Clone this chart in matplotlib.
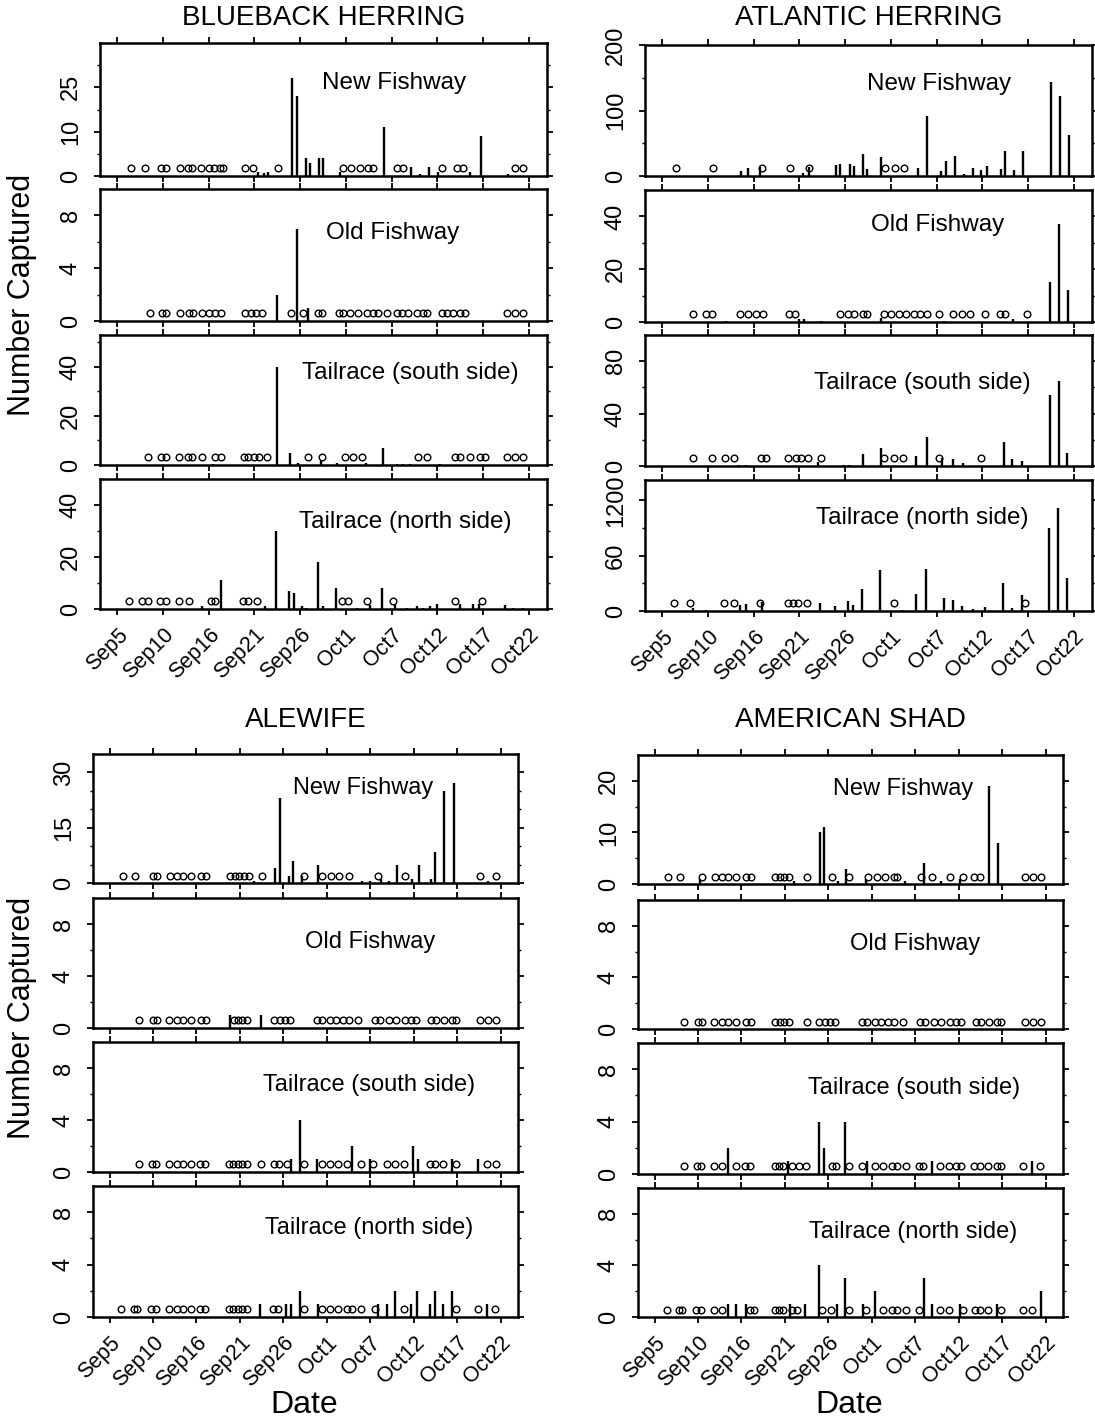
import matplotlib.pyplot as plt

# Liberation Sans stands in for Arial
plt.rcParams['font.family'] = ['Liberation Sans', 'DejaVu Sans']

# x axis is the sampling day, ticks every 5 units
date_ticks = [5, 10, 15, 20, 25, 30, 35, 40, 45, 50]
date_labels = ['Sep5', 'Sep10', 'Sep16', 'Sep21', 'Sep26',
               'Oct1', 'Oct7', 'Oct12', 'Oct17', 'Oct22']

species = ['BLUEBACK HERRING', 'ATLANTIC HERRING', 'ALEWIFE', 'AMERICAN SHAD']
sites = ['New Fishway', 'Old Fishway', 'Tailrace (south side)', 'Tailrace (north side)']

# zero = days sampled with no catch (open circles), *_x / *_n = days with catch
# blueback herring
bb_new_zero = [6.5, 8.0, 9.8, 10.3, 11.9, 12.7, 13.2, 14.2, 15.0, 15.6, 16.2, 16.6, 19.0, 19.8,
               22.6, 29.7, 30.6, 31.5, 32.4, 33.0, 35.6, 36.3, 40.5, 42.1, 42.8, 48.5, 49.4]
bb_new_x = [20.4, 21.0, 21.5, 24.1, 24.6, 25.6, 26.1, 27.1, 27.5, 29.4, 34.2, 37.1, 38.1,
            39.1, 40.1, 43.6, 44.8, 47.7]
bb_new_n = [1, 0.7, 1, 22, 18, 4, 3, 4, 4, 1, 11, 2, 0.5, 2, 1, 1, 9, 0.5]

bb_old_zero = [8.6, 9.9, 10.3, 11.9, 12.8, 13.3, 14.3, 15.0, 15.7, 16.3, 19.0, 19.6, 20.2, 20.8,
               24.0, 25.3, 26.9, 27.4, 29.2, 29.7, 30.5, 31.3, 32.3, 33.0, 33.5, 34.5, 35.6,
               36.1, 36.8, 37.8, 38.4, 38.9, 40.5, 41.1, 41.7, 42.5, 43.0, 47.6, 48.5, 49.4]
bb_old_x = [22.5, 24.7, 25.9]
bb_old_n = [2, 7, 1]

bb_south_zero = [8.4, 9.8, 10.3, 11.7, 12.7, 13.2, 14.3, 15.7, 16.3, 18.8, 19.3, 19.9, 20.5,
                 21.4, 25.8, 27.4, 29.9, 30.8, 31.8, 37.9, 38.9, 41.9, 42.5, 43.6, 44.7, 45.2,
                 47.6, 48.5, 49.4]
bb_south_x = [15.5, 22.5, 23.9, 24.8, 27.3, 29.0, 32.2, 34.1, 35.6, 36.3, 37.0, 40.3]
bb_south_n = [0.5, 40, 5, 1, 1.5, 1, 1, 7, 0.5, 0.5, 0.5, 0.5]

bb_north_zero = [6.3, 7.7, 8.3, 9.7, 10.3, 11.7, 12.8, 15.2, 15.7, 18.7, 19.3, 20.3, 29.6,
                 30.2, 32.3, 35.2, 41.9, 44.9]
bb_north_x = [14.3, 16.3, 21.2, 22.4, 23.8, 24.3, 25.2, 25.6, 26.9, 27.5, 28.9, 31.2, 32.6,
              34.0, 35.4, 36.7, 37.8, 38.4, 39.2, 40.0, 42.5, 43.9, 44.6, 47.4, 48.3, 49.4]
bb_north_n = [1, 11, 1, 30, 7, 6, 1, 0.5, 18, 1, 8, 0.5, 1.5, 8, 1.5, 0.5, 1, 0.5, 1, 2,
              2, 2, 2, 1.5, 0.5, 0.5]

# atlantic herring
ah_new_zero = [6.5, 10.5, 15.9, 19.0, 21.0, 29.4, 30.5, 31.4]
ah_new_x = [13.6, 14.4, 15.7, 20.4, 21.0, 24.0, 24.4, 25.5, 26.0, 27.0, 27.4, 28.9, 33.0,
            34.0, 35.5, 36.0, 37.0, 38.0, 39.0, 39.9, 40.5, 42.0, 42.5, 43.5, 44.5, 47.5,
            48.5, 49.5]
ah_new_n = [8, 12, 14, 4, 14, 17, 18, 18, 16, 34, 10, 29, 12, 91, 7, 23, 30, 3, 12, 9, 16,
            11, 38, 9, 38, 143, 122, 63]

ah_old_zero = [8.4, 9.8, 10.4, 13.5, 14.4, 15.2, 16.0, 18.8, 19.5, 24.4, 25.3, 26.0, 26.9,
               27.4, 29.2, 30.0, 30.9, 31.6, 32.5, 33.2, 33.9, 35.3, 36.8, 37.8, 38.7, 40.3,
               41.9, 42.5, 44.9]
ah_old_x = [12.0, 20.0, 20.5, 22.4, 28.9, 35.8, 43.4, 47.4, 48.4, 49.4]
ah_old_n = [0.5, 1, 1, 0.5, 1.5, 0.5, 1, 15, 37, 12]

ah_south_zero = [8.3, 10.4, 11.8, 12.8, 15.8, 16.3, 18.7, 19.6, 20.2, 20.9, 22.4, 29.2,
                 30.3, 31.3, 35.3, 39.9]
ah_south_x = [13.4, 14.2, 22.0, 24.9, 25.4, 27.0, 28.9, 32.8, 33.9, 35.6, 36.8, 37.9, 42.4,
              43.3, 44.3, 47.4, 48.4, 49.3]
ah_south_n = [1, 1, 3, 1, 1, 9, 14, 8, 22, 6, 5, 2, 18, 5, 4, 54, 65, 10]

ah_north_zero = [6.3, 8.0, 11.7, 12.8, 15.7, 18.7, 19.3, 19.8, 20.8, 30.3, 44.7]
ah_north_x = [8.4, 9.8, 13.5, 14.2, 15.9, 22.2, 23.9, 25.3, 25.8, 26.8, 28.8, 31.2, 32.8,
              33.8, 35.8, 36.8, 37.8, 39.0, 40.3, 42.3, 43.3, 44.3, 47.3, 48.3, 49.3]
ah_north_n = [3, 1, 6, 8, 10, 9, 5, 11, 7, 24, 44, 1, 18, 45, 14, 12, 5, 2, 4, 30, 3, 17,
              90, 112, 36]

# alewife
al_new_zero = [6.5, 7.9, 10.0, 10.5, 12.0, 12.8, 13.4, 14.4, 15.5, 16.1, 18.9, 19.4, 19.9,
               20.5, 21.0, 22.6, 27.4, 29.5, 30.5, 31.4, 32.5, 35.9, 39.0, 47.6, 49.5]
al_new_x = [21.6, 24.0, 24.6, 25.6, 26.1, 27.1, 29.0, 34.0, 35.0, 36.2, 37.1, 38.1, 39.8,
            40.6, 42.0, 42.5, 43.5, 44.6, 48.5]
al_new_n = [0.5, 4, 23, 2, 6, 2, 5, 0.5, 0.5, 1, 0.5, 5, 1, 5, 1, 8.5, 25, 27, 0.5]

al_old_zero = [8.4, 10.0, 10.5, 11.9, 12.8, 13.4, 14.4, 15.5, 16.1, 19.3, 19.8, 20.3, 20.8,
               23.9, 24.6, 25.2, 25.8, 28.9, 29.4, 30.4, 31.1, 31.9, 32.5, 33.6, 35.5, 36.1,
               37.1, 38.0, 39.0, 39.7, 40.3, 42.0, 42.6, 43.5, 44.4, 44.9, 47.6, 48.5, 49.5]
al_old_x = [18.9, 22.4]
al_old_n = [1, 1]

al_south_zero = [8.4, 9.9, 10.3, 11.9, 12.8, 13.4, 14.4, 15.4, 16.0, 18.7, 19.2, 19.8, 20.3,
                 20.8, 22.4, 23.9, 24.5, 25.4, 27.4, 29.4, 30.4, 31.3, 32.3, 33.9, 35.3,
                 36.9, 37.8, 38.9, 41.9, 42.4, 43.4, 44.9, 48.4, 49.5]
al_south_x = [25.9, 26.9, 28.9, 32.9, 35.0, 39.9, 40.5, 44.4, 47.4]
al_south_n = [1, 4, 1, 2, 1, 2, 1, 1, 1]

al_north_zero = [6.3, 7.8, 8.2, 9.8, 10.3, 11.9, 12.8, 13.4, 14.4, 15.4, 16.0, 18.7, 19.2,
                 19.8, 20.3, 20.8, 23.8, 24.4, 27.4, 29.4, 30.4, 31.3, 32.3, 32.9, 33.9,
                 35.5, 38.9, 44.9, 47.4, 49.4]
al_north_x = [22.3, 25.3, 25.9, 26.9, 29.0, 35.9, 36.9, 37.9, 39.7, 40.4, 41.9, 42.4, 43.4,
              44.4, 48.4]
al_north_n = [1, 1, 1, 2, 1, 1, 1, 2, 1, 2, 1, 2, 1, 2, 1]

# american shad
as_new_zero = [6.5, 7.9, 10.5, 12.0, 12.8, 13.4, 14.4, 15.5, 16.1, 18.9, 19.4, 19.9, 20.5,
               22.6, 25.4, 27.4, 29.6, 30.6, 31.5, 32.5, 32.9, 35.7, 36.9, 39.0, 40.5, 41.8,
               42.4, 47.6, 48.5, 49.5]
as_new_x = [10.2, 21.0, 24.0, 24.5, 26.1, 27.0, 29.3, 33.8, 36.0, 38.0, 40.2, 43.5, 44.5]
as_new_n = [1, 0.5, 10, 11, 0.5, 3, 1, 0.5, 4, 0.5, 1, 19, 8]

as_old_zero = [8.4, 10.0, 10.5, 11.9, 12.8, 13.4, 14.4, 15.5, 16.1, 18.9, 19.4, 19.9, 20.5,
               22.6, 23.9, 24.6, 25.2, 25.8, 28.9, 29.4, 30.4, 31.1, 31.9, 32.5, 33.6, 35.5,
               36.1, 37.1, 38.0, 39.0, 39.7, 40.3, 42.0, 42.6, 43.5, 44.4, 44.9, 47.6, 48.5,
               49.5]
as_old_x = []
as_old_n = []

as_south_zero = [8.4, 9.9, 10.3, 11.9, 12.8, 14.4, 15.4, 16.0, 18.9, 19.3, 19.8, 20.8, 21.6,
                 22.4, 25.4, 25.9, 27.4, 28.9, 30.4, 31.3, 32.3, 32.9, 33.9, 35.4, 35.9,
                 37.9, 38.9, 39.7, 40.3, 41.8, 42.4, 43.4, 44.4, 44.9, 47.4, 49.4]
as_south_x = [13.4, 20.4, 23.9, 24.5, 26.9, 29.4, 36.9, 48.4]
as_south_n = [2, 1, 4, 2, 4, 1, 1, 1]

as_north_zero = [6.4, 7.8, 8.2, 9.8, 10.3, 11.9, 12.8, 16.0, 16.5, 18.9, 19.3, 19.8, 20.8,
                 21.4, 24.3, 25.3, 27.4, 29.3, 31.3, 32.3, 32.9, 33.9, 35.4, 37.9, 38.9,
                 40.5, 41.9, 42.4, 43.4, 44.9, 47.4, 48.4]
as_north_x = [13.4, 14.4, 15.5, 20.6, 22.3, 23.9, 26.0, 26.9, 29.0, 30.4, 36.0, 36.9, 40.1,
              44.4, 49.5]
as_north_n = [1, 1, 1, 1, 1, 4, 1, 3, 1, 2, 3, 1, 1, 1, 2]

panels = [
    [(bb_new_zero, bb_new_x, bb_new_n), (bb_old_zero, bb_old_x, bb_old_n),
     (bb_south_zero, bb_south_x, bb_south_n), (bb_north_zero, bb_north_x, bb_north_n)],
    [(ah_new_zero, ah_new_x, ah_new_n), (ah_old_zero, ah_old_x, ah_old_n),
     (ah_south_zero, ah_south_x, ah_south_n), (ah_north_zero, ah_north_x, ah_north_n)],
    [(al_new_zero, al_new_x, al_new_n), (al_old_zero, al_old_x, al_old_n),
     (al_south_zero, al_south_x, al_south_n), (al_north_zero, al_north_x, al_north_n)],
    [(as_new_zero, as_new_x, as_new_n), (as_old_zero, as_old_x, as_old_n),
     (as_south_zero, as_south_x, as_south_n), (as_north_zero, as_north_x, as_north_n)],
]

# y axis per panel: (top, major ticks, tick labels, minor ticks) - labels as printed
yaxes = [
    [(30, [0, 10, 20], ['0', '10', '25'], [5, 15, 25]),
     (10, [0, 4, 8], ['0', '4', '8'], [2, 6]),
     (53, [0, 20, 40], ['0', '20', '40'], [10, 30, 50]),
     (50, [0, 20, 40], ['0', '20', '40'], [10, 30])],
    [(200, [0, 100, 200], ['0', '100', '200'], [50, 150]),
     (50, [0, 20, 40], ['0', '20', '40'], [10, 30]),
     (100, [0, 40, 80], ['0', '40', '80'], [20, 60]),
     (142, [0, 60, 120], ['0', '60', '1200'], [30, 90])],
    [(35, [0, 15, 30], ['0', '15', '30'], [5, 10, 20, 25]),
     (10, [0, 4, 8], ['0', '4', '8'], [2, 6]),
     (10, [0, 4, 8], ['0', '4', '8'], [2, 6]),
     (10, [0, 4, 8], ['0', '4', '8'], [2, 6])],
    [(25, [0, 10, 20], ['0', '10', '20'], [5, 15]),
     (10, [0, 4, 8], ['0', '4', '8'], [2, 6]),
     (10, [0, 4, 8], ['0', '4', '8'], [2, 6]),
     (10, [0, 4, 8], ['0', '4', '8'], [2, 6])],
]

# layout in pixels of the 1095x1426 picture
W, H = 1095, 1426
group_x = [(100, 547), (645, 1092), (93, 518), (638, 1063)]
group_y = [
    [(43, 176), (189, 321), (335, 465), (479, 609)],
    [(45, 176), (190, 322), (335, 466), (480, 611)],
    [(754, 883), (898, 1028), (1042, 1172), (1186, 1317)],
    [(755, 884), (900, 1029), (1043, 1174), (1188, 1317)],
]
label_pos = [
    [(0.658, 0.70), (0.654, 0.667), (0.694, 0.705), (0.682, 0.67)],
    [(0.658, 0.70), (0.654, 0.735), (0.62, 0.63), (0.62, 0.71)],
    [(0.635, 0.74), (0.652, 0.66), (0.65, 0.67), (0.65, 0.68)],
    [(0.624, 0.74), (0.652, 0.66), (0.65, 0.66), (0.647, 0.66)],
]
title_y = [18, 18, 720, 720]
label_size = [17.5, 17.5, 17, 17]

fig = plt.figure(figsize=(W / 100, H / 100), dpi=100)

for g in range(4):
    x0, x1 = group_x[g]
    for p in range(4):
        y0, y1 = group_y[g][p]
        ax = fig.add_axes([x0 / W, 1 - y1 / H, (x1 - x0) / W, (y1 - y0) / H])
        zero, bx, bn = panels[g][p]
        top, yt, ytl, ymin = yaxes[g][p]

        # catches as thin vertical bars
        ax.vlines(bx, 0, bn, color='black', lw=1.7)
        # zero-catch days as small open circles just above the axis
        ax.plot(zero, [0.058] * len(zero), 'o', transform=ax.get_xaxis_transform(),
                ms=4.8, mfc='none', mec='black', mew=1.0, clip_on=False)

        ax.set_xlim(3.1, 52)
        ax.set_ylim(0, top)
        ax.set_xticks(date_ticks)
        if p == 3:
            ax.set_xticklabels(date_labels, rotation=45, ha='right',
                               rotation_mode='anchor', fontsize=15.5)
        else:
            ax.set_xticklabels([])
        ax.set_yticks(yt)
        ax.set_yticklabels(ytl, rotation=90, va='center', fontsize=17)
        ax.set_yticks(ymin, minor=True)

        ax.tick_params(axis='x', direction='out', top=True, length=4, width=1.3, pad=7)
        ax.tick_params(axis='y', which='major', direction='out', right=True,
                       length=4, width=1.3, pad=9)
        ax.tick_params(axis='y', which='minor', direction='out', right=True,
                       length=2.5, width=1)
        for s in ax.spines.values():
            s.set_linewidth(1.8)

        lx, ly = label_pos[g][p]
        ax.text(lx, ly, sites[p], transform=ax.transAxes, ha='center', va='center',
                fontsize=label_size[g])

    # species title over each block
    fig.text((x0 + x1) / 2 / W, 1 - title_y[g] / H, species[g],
             ha='center', va='center', fontsize=20)

# shared axis titles
fig.text(22 / W, 1 - 295 / H, 'Number Captured', rotation=90,
         ha='center', va='center', fontsize=22)
fig.text(22 / W, 1 - 1018 / H, 'Number Captured', rotation=90,
         ha='center', va='center', fontsize=22)
fig.text(304 / W, 1 - 1405 / H, 'Date', ha='center', va='center', fontsize=23)
fig.text(849 / W, 1 - 1405 / H, 'Date', ha='center', va='center', fontsize=23)

fig.savefig('out.png', dpi=100)
